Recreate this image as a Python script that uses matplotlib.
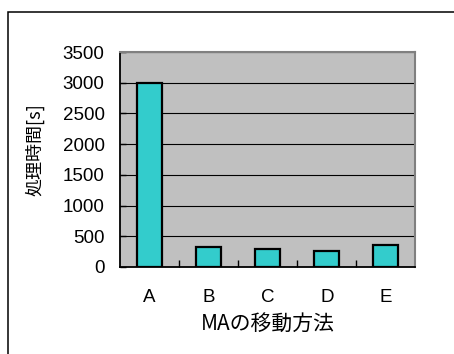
import numpy as np
import matplotlib.pyplot as plt
from matplotlib.patches import Rectangle

plt.rcParams['font.family'] = ['Liberation Sans', 'Noto Sans CJK JP', 'DejaVu Sans']

methods = ['A', 'B', 'C', 'D', 'E']
times = [3000, 330, 290, 265, 350]
yticks = [0, 500, 1000, 1500, 2000, 2500, 3000, 3500]

fig = plt.figure(figsize=(4.54, 3.54), dpi=100)
ax = fig.add_axes([0.2643, 0.2458, 0.6508, 0.6072])

# outer chart frame (runs off the right and bottom edges)
fig.patches.append(Rectangle((7.5 / 454, -0.2), 1.5, 0.2 + 1 - 11.5 / 354,
                             transform=fig.transFigure, fill=False,
                             edgecolor='black', linewidth=1.1, clip_on=False))

x = np.arange(len(methods))
ax.set_facecolor('#C0C0C0')
ax.bar(x, times, width=0.42, color='#33CCCC', edgecolor='black',
       linewidth=1.6, zorder=3)

ax.set_xlim(-0.5, len(methods) - 0.5)
ax.set_ylim(0, 3500)
ax.set_yticks(yticks)
ax.yaxis.grid(True, color='black', linewidth=0.8, zorder=1)
ax.set_axisbelow(True)

ax.set_xticks(x)
ax.set_xticklabels(methods)
ax.set_xticks(np.arange(0.5, len(methods) - 1, 1.0), minor=True)
ax.tick_params(axis='x', which='major', length=0, pad=16, labelsize=13.5)
ax.tick_params(axis='x', which='minor', direction='in', length=5, width=1)
ax.tick_params(axis='y', direction='in', length=4, width=1, pad=11, labelsize=13.5)

for side in ['left', 'bottom']:
    ax.spines[side].set_color('black')
    ax.spines[side].set_linewidth(1.3)
for side in ['top', 'right']:
    ax.spines[side].set_color('#808080')
    ax.spines[side].set_linewidth(1.5)

ax.set_ylabel('処理時間[s]', fontsize=13,
              family=['Noto Sans CJK JP', 'DejaVu Sans'])
ax.yaxis.set_label_coords(-0.257, 0.544)
ax.set_xlabel('MAの移動方法', fontsize=15,
              family=['Noto Sans CJK JP', 'DejaVu Sans'])
ax.xaxis.set_label_coords(0.5, -0.215)

fig.savefig('out.png', dpi=100)
